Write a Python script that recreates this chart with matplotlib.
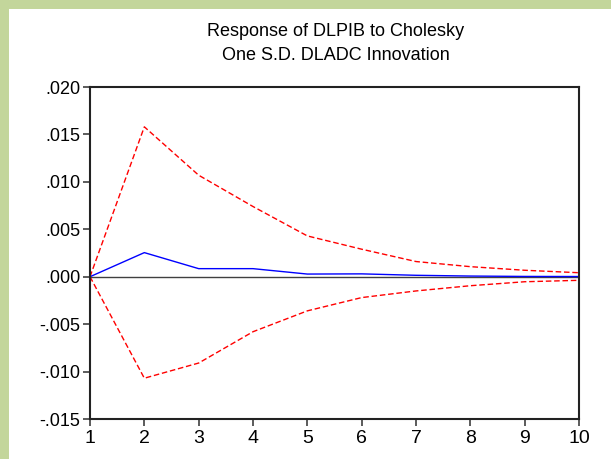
import matplotlib
matplotlib.use("Agg")
import matplotlib.pyplot as plt
import matplotlib.ticker as mticker
from matplotlib.patches import Rectangle

# impulse response, periods 1..10
periods = [1, 2, 3, 4, 5, 6, 7, 8, 9, 10]
response = [0.0, 0.00254, 0.00085, 0.00085, 0.00028, 0.00030, 0.00015, 0.00007, 0.00003, 0.00002]
upper_band = [0.0, 0.0158, 0.0107, 0.0074, 0.0043, 0.0029, 0.0016, 0.00106, 0.00068, 0.00042]
lower_band = [0.0, -0.0107, -0.0091, -0.0058, -0.0036, -0.0022, -0.0015, -0.00095, -0.00053, -0.00038]

yticks = [-0.015, -0.010, -0.005, 0.0, 0.005, 0.010, 0.015, 0.020]

plt.rcParams['font.family'] = ['Liberation Sans', 'DejaVu Sans']

fig = plt.figure(figsize=(6.11, 4.59), dpi=100)
fig.patch.set_facecolor('white')
# green frame strips (left and top)
fig.patches.append(Rectangle((0, 0), 9/611, 1, transform=fig.transFigure, fc='#c3d69b', ec='none'))
fig.patches.append(Rectangle((0, 1 - 9/459), 1, 9/459, transform=fig.transFigure, fc='#c3d69b', ec='none'))

ax = fig.add_axes([90/611, 1 - 419/459, (579 - 90)/611, (419 - 87)/459])

ax.axhline(0, color='#404040', lw=1.0, zorder=1)
ax.plot(periods, upper_band, color='red', lw=1.0, ls=(0, (4, 2)))
ax.plot(periods, lower_band, color='red', lw=1.0, ls=(0, (4, 2)))
ax.plot(periods, response, color='blue', lw=1.0)

ax.set_xlim(1, 10)
ax.set_ylim(-0.015, 0.020)
ax.set_xticks(periods)
ax.set_yticks(yticks)

def fmt(v, pos):
    s = '%.3f' % v
    return s.replace('0.', '.', 1)

ax.yaxis.set_major_formatter(mticker.FuncFormatter(fmt))
ax.tick_params(axis='y', direction='out', length=5, width=1.2, color='#404040', labelsize=13, pad=2)
ax.tick_params(axis='x', direction='out', length=5, width=1.2, color='#404040', labelsize=14, pad=3)
for sp in ax.spines.values():
    sp.set_linewidth(1.5)
    sp.set_color('#222222')

fig.text(336/611, 1 - 32/459, 'Response of DLPIB to Cholesky', ha='center', va='center', fontsize=13)
fig.text(336/611, 1 - 56/459, 'One S.D. DLADC Innovation', ha='center', va='center', fontsize=13)

fig.savefig('out.png', dpi=100)
